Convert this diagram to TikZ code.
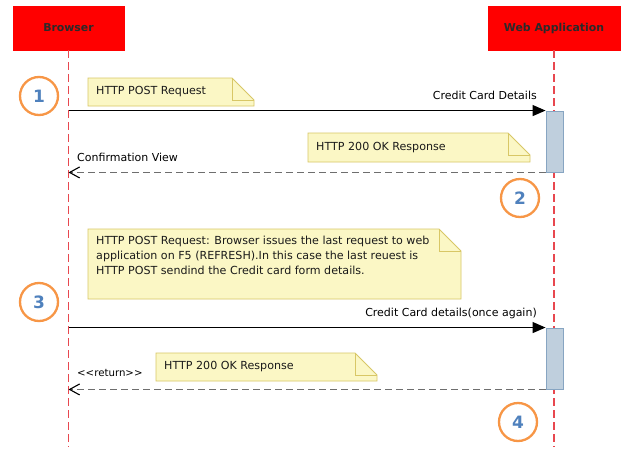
\documentclass[tikz,border=0pt]{standalone}
\usepackage{fontspec}
\setmainfont{DejaVu Sans}
\usetikzlibrary{arrows.meta,calc}
\definecolor{hdrred}{HTML}{FF0000}
\definecolor{lifered}{HTML}{E8474F}
\definecolor{notefill}{HTML}{FBF7C5}
\definecolor{noteline}{HTML}{D8C766}
\definecolor{actfill}{HTML}{BFCFDD}
\definecolor{actline}{HTML}{87A5C2}
\definecolor{stepor}{HTML}{F79646}
\definecolor{stepbl}{HTML}{4F81BD}
\definecolor{retgray}{HTML}{6E6E6E}
\definecolor{txtdark}{HTML}{1A1A1A}
\definecolor{hdrtxt}{HTML}{2A2A2A}
\newcommand\mynote[4]{% x1,y1,x2,y2
  \draw[fill=notefill, draw=noteline, line width=0.9pt]
    (#1,#2) -- (#3-22,#2) -- (#3,#2+22) -- (#3,#4) -- (#1,#4) -- cycle;
  \draw[noteline, line width=0.9pt] (#3-22,#2) -- (#3-22,#2+22) -- (#3,#2+22);
}
\begin{document}
\begin{tikzpicture}[x=1pt,y=-1pt,
  hdr/.style={rectangle, fill=hdrred, draw=hdrred, minimum height=44pt, inner sep=0pt,
    font=\bfseries\fontsize{10.9}{12}\selectfont, text=hdrtxt},
  life/.style={lifered, line width=1.2pt, dash pattern=on 8pt off 4pt},
  actbar/.style={rectangle, fill=actfill, draw=actline, line width=0.9pt, minimum width=17pt, inner sep=0pt},
  msg/.style={black, line width=1.3pt, -{Triangle[length=13pt,width=11pt]}},
  ret/.style={retgray, line width=1.3pt, dash pattern=on 7pt off 4pt,
    -{Straight Barb[length=10pt,width=11pt,color=black,line width=1.1pt]}},
  lbl/.style={inner sep=0pt, font=\fontsize{11}{13}\selectfont, text=black},
  notetext/.style={inner sep=0pt, font=\fontsize{11.1}{15}\selectfont, text=txtdark, align=left},
  stepcirc/.style={circle, draw=stepor, line width=2.3pt, minimum size=38pt, inner sep=0pt,
    font=\bfseries\fontsize{17}{17}\selectfont, text=stepbl}
]
\useasboundingbox (0,0) rectangle (630,469);
\fill[white] (0,0) rectangle (630,469);

% headers
\node[hdr, minimum width=111pt] (browser) at (68.5,28) {Browser};
\node[hdr, minimum width=132pt] (webapp) at (554,28) {Web Application};
\coordinate (lifeend) at (0,447);

% lifelines
\draw[life] (browser.south) -- (browser.south |- lifeend);
\draw[life] (webapp.south) -- (webapp.south |- lifeend);

% activation bars
\node[actbar, minimum height=61pt] (act1) at (554.5,141.5) {};
\node[actbar, minimum height=61pt] (act2) at (554.5,358.5) {};

% messages
\draw[msg] (browser.south |- act1.north west) -- (act1.north west);
\draw[ret] (act1.south west) -- (act1.south west -| browser.south);
\draw[msg] (browser.south |- act2.north west) -- (act2.north west);
\draw[ret] (act2.south west) -- (act2.south west -| browser.south);

% message labels
\node[lbl, anchor=east] (l1) at (537,95.5) {Credit Card Details};
\node[lbl, anchor=west] (l2) at (77,157) {Confirmation View};
\node[lbl, anchor=east] (l3) at (537,313) {Credit Card details(once again)};
\node[lbl, anchor=west, font=\fontsize{10.2}{12}\selectfont] (l4) at (77,373) {<{}<return>{}>};

% notes
\mynote{88}{78}{254}{106}
\node[notetext, anchor=west] (n1) at (96,92) {HTTP POST Request};
\mynote{308}{133}{530}{162}
\node[notetext, anchor=west] (n2) at (316,147.5) {HTTP 200 OK Response};
\mynote{88}{229}{461}{299}
\node[notetext, anchor=north west] (n3) at (96,236) {HTTP POST Request: Browser issues the last request to web\\application on F5 (REFRESH).In this case the last reuest is\\HTTP POST sendind the Credit card form details.};
\mynote{156}{353}{377}{381}
\node[notetext, anchor=west] (n4) at (164,367) {HTTP 200 OK Response};

% step circles
\node[stepcirc] (s1) at (39,96) {1};
\node[stepcirc] (s2) at (520,198) {2};
\node[stepcirc] (s3) at (39,302) {3};
\node[stepcirc] (s4) at (518,422) {4};
\end{tikzpicture}
\end{document}
